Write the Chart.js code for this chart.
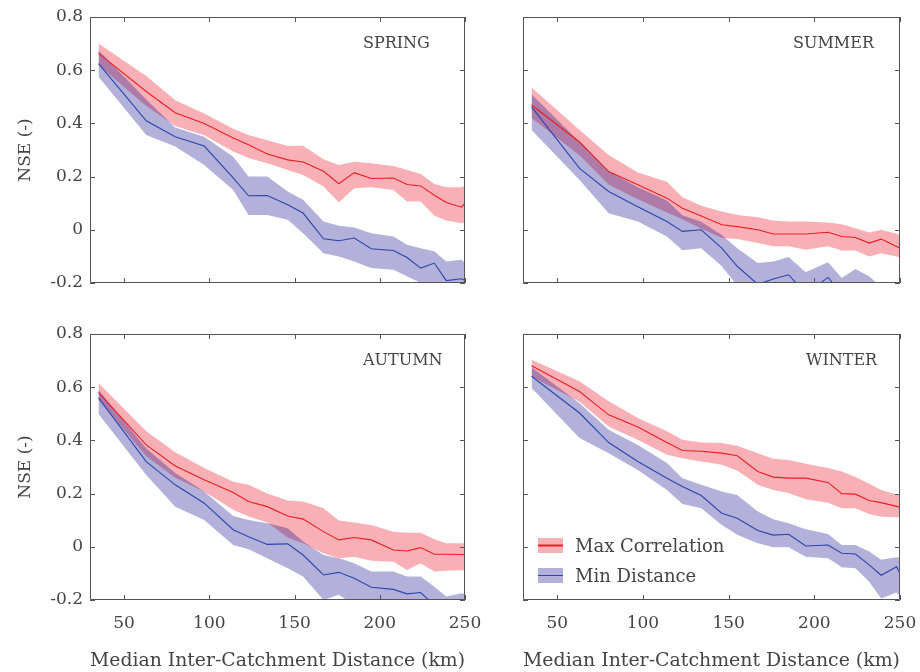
<!DOCTYPE html>
<html>
<head>
<meta charset="utf-8">
<script src="https://cdn.jsdelivr.net/npm/chart.js@4.4.1/dist/chart.umd.min.js"></script>
<style>
  body { margin: 0; background: #fff; width: 920px; height: 672px; position: relative; overflow: hidden; }
  canvas { position: absolute; left: 0; top: 0; }
</style>
</head>
<body>
<canvas id="spring" width="920" height="672"></canvas>
<canvas id="summer" width="920" height="672"></canvas>
<canvas id="autumn" width="920" height="672"></canvas>
<canvas id="winter" width="920" height="672"></canvas>
<script>
// median inter-catchment distance (km) of each bin, shared by all panels
const distances = [35, 63, 80, 97, 114, 123, 134, 146, 155, 167, 176, 185, 195, 208, 216, 224, 232, 239, 248, 256];
const xTicks = [50, 100, 150, 200, 250];
const yTicks = [-0.2, 0, 0.2, 0.4, 0.6, 0.8];
const seriesNames = ['Max Correlation', 'Min Distance'];

// SPRING
const springCorr   = [0.663, 0.52, 0.44, 0.40, 0.345, 0.32, 0.285, 0.263, 0.255, 0.22, 0.173, 0.215, 0.193, 0.195, 0.17, 0.165, 0.13, 0.103, 0.085, 0.145];
const springCorrHi = [0.70, 0.578, 0.487, 0.437, 0.38, 0.356, 0.337, 0.315, 0.316, 0.265, 0.244, 0.256, 0.25, 0.24, 0.225, 0.21, 0.172, 0.16, 0.16, 0.184];
const springCorrLo = [0.62, 0.465, 0.39, 0.355, 0.294, 0.27, 0.25, 0.225, 0.206, 0.163, 0.103, 0.156, 0.16, 0.15, 0.106, 0.106, 0.053, 0.035, 0.025, 0.04];
const springDist   = [0.625, 0.41, 0.35, 0.315, 0.195, 0.128, 0.129, 0.094, 0.063, -0.034, -0.041, -0.031, -0.071, -0.078, -0.104, -0.144, -0.125, -0.191, -0.184, -0.208];
const springDistHi = [0.675, 0.49, 0.385, 0.35, 0.275, 0.2, 0.2, 0.144, 0.113, 0.031, 0.015, 0.009, -0.013, -0.025, -0.056, -0.069, -0.081, -0.119, -0.113, -0.16];
const springDistLo = [0.575, 0.356, 0.313, 0.244, 0.15, 0.056, 0.056, 0.038, -0.013, -0.088, -0.1, -0.119, -0.144, -0.15, -0.175, -0.2, -0.215, -0.24, -0.24, -0.26];

// SUMMER
const summerCorr   = [0.469, 0.33, 0.219, 0.169, 0.119, 0.081, 0.052, 0.019, 0.012, 0.0, -0.016, -0.016, -0.016, -0.009, -0.025, -0.029, -0.05, -0.035, -0.063, -0.087];
const summerCorrHi = [0.535, 0.375, 0.281, 0.215, 0.181, 0.122, 0.09, 0.069, 0.056, 0.047, 0.035, 0.031, 0.031, 0.027, 0.021, 0.006, -0.01, 0.0, -0.015, -0.035];
const summerCorrLo = [0.42, 0.28, 0.17, 0.115, 0.065, 0.04, 0.005, -0.031, -0.035, -0.05, -0.062, -0.062, -0.075, -0.062, -0.078, -0.078, -0.1, -0.088, -0.1, -0.115];
const summerDist   = [0.462, 0.231, 0.144, 0.087, 0.031, -0.006, 0.0, -0.069, -0.137, -0.205, -0.185, -0.169, -0.24, -0.179, -0.24, -0.23, -0.25, -0.29, -0.3, -0.3];
const summerDistHi = [0.51, 0.33, 0.22, 0.16, 0.11, 0.055, 0.03, -0.02, -0.069, -0.125, -0.119, -0.102, -0.16, -0.122, -0.181, -0.147, -0.175, -0.215, -0.24, -0.26];
const summerDistLo = [0.375, 0.187, 0.062, 0.031, -0.025, -0.077, -0.069, -0.137, -0.21, -0.27, -0.26, -0.25, -0.3, -0.26, -0.3, -0.3, -0.32, -0.35, -0.35, -0.35];

// AUTUMN
const autumnCorr   = [0.58, 0.383, 0.304, 0.252, 0.204, 0.17, 0.151, 0.116, 0.104, 0.057, 0.026, 0.035, 0.026, -0.012, -0.016, -0.003, -0.028, -0.028, -0.029, -0.032];
const autumnCorrHi = [0.616, 0.434, 0.355, 0.296, 0.245, 0.233, 0.2, 0.174, 0.17, 0.145, 0.099, 0.091, 0.082, 0.057, 0.053, 0.053, 0.028, 0.013, 0.013, 0.012];
const autumnCorrLo = [0.553, 0.34, 0.26, 0.208, 0.139, 0.114, 0.091, 0.035, 0.013, -0.024, -0.043, -0.037, -0.052, -0.056, -0.087, -0.062, -0.093, -0.09, -0.088, -0.088];
const autumnDist   = [0.56, 0.32, 0.233, 0.164, 0.064, 0.038, 0.009, 0.011, -0.031, -0.106, -0.096, -0.118, -0.152, -0.16, -0.177, -0.172, -0.22, -0.25, -0.27, -0.28];
const autumnDistHi = [0.59, 0.37, 0.277, 0.208, 0.116, 0.101, 0.089, 0.07, 0.02, -0.031, -0.043, -0.062, -0.093, -0.093, -0.112, -0.112, -0.15, -0.187, -0.175, -0.19];
const autumnDistLo = [0.499, 0.27, 0.151, 0.101, 0.007, -0.009, -0.043, -0.081, -0.112, -0.2, -0.18, -0.22, -0.25, -0.26, -0.28, -0.28, -0.3, -0.3, -0.3, -0.3];

// WINTER
const winterCorr   = [0.681, 0.584, 0.496, 0.45, 0.392, 0.362, 0.359, 0.352, 0.342, 0.283, 0.262, 0.258, 0.258, 0.242, 0.2, 0.198, 0.174, 0.166, 0.152, 0.14];
const winterCorrHi = [0.703, 0.622, 0.547, 0.484, 0.434, 0.402, 0.392, 0.39, 0.38, 0.352, 0.331, 0.326, 0.312, 0.296, 0.283, 0.262, 0.237, 0.214, 0.197, 0.19];
const winterCorrLo = [0.64, 0.545, 0.452, 0.402, 0.346, 0.333, 0.321, 0.308, 0.287, 0.233, 0.214, 0.202, 0.179, 0.166, 0.145, 0.145, 0.123, 0.113, 0.111, 0.11];
const winterDist   = [0.641, 0.503, 0.392, 0.321, 0.258, 0.227, 0.193, 0.126, 0.107, 0.061, 0.044, 0.047, 0.003, 0.007, -0.024, -0.027, -0.068, -0.107, -0.075, -0.175];
const winterDistHi = [0.675, 0.54, 0.44, 0.383, 0.315, 0.258, 0.233, 0.208, 0.195, 0.133, 0.104, 0.089, 0.066, 0.048, 0.007, 0.007, -0.018, -0.049, -0.039, -0.05];
const winterDistLo = [0.597, 0.409, 0.352, 0.289, 0.214, 0.161, 0.145, 0.082, 0.045, 0.013, -0.002, -0.002, -0.037, -0.043, -0.077, -0.081, -0.131, -0.194, -0.172, -0.23];

const RED_LINE = '#ec1c24';
const RED_BAND = 'rgba(232, 0, 20, 0.31)';
const BLUE_LINE = '#2b45ad';
const BLUE_BAND = 'rgba(10, 0, 135, 0.31)';
const TEXT = '#444';
const FONT = "'DejaVu Serif', serif";

Chart.defaults.font.family = FONT;
Chart.defaults.color = TEXT;

const pts = ys => distances.map((d, i) => ({ x: d, y: ys[i] }));

// --- box, inward ticks, season label and legend ---
const framePlugin = {
    id: 'frame',
    afterDatasetsDraw(chart, args, opts) {
        const { ctx, chartArea: a, scales: { x, y } } = chart;
        ctx.save();
        ctx.strokeStyle = '#555';
        ctx.lineWidth = 1;
        ctx.beginPath();
        ctx.rect(a.left + 0.5, a.top + 0.5, a.right - a.left - 1, a.bottom - a.top - 1);
        x.ticks.forEach(t => {
            const px = Math.round(x.getPixelForValue(t.value)) + 0.5;
            ctx.moveTo(px, a.bottom); ctx.lineTo(px, a.bottom - 5);
            ctx.moveTo(px, a.top); ctx.lineTo(px, a.top + 5);
        });
        y.ticks.forEach(t => {
            const py = Math.round(y.getPixelForValue(t.value)) + 0.5;
            ctx.moveTo(a.left, py); ctx.lineTo(a.left + 5, py);
            ctx.moveTo(a.right, py); ctx.lineTo(a.right - 5, py);
        });
        ctx.stroke();

        ctx.fillStyle = TEXT;
        ctx.font = '16px ' + FONT;
        ctx.textBaseline = 'middle';
        ctx.fillText(opts.title, a.left + opts.titleX, a.top + 26.5);

        if (opts.legend) {
            const items = [
                { label: seriesNames[0], band: RED_BAND, line: RED_LINE, w: 2 },
                { label: seriesNames[1], band: BLUE_BAND, line: BLUE_LINE, w: 1 }
            ];
            ctx.font = '18px ' + FONT;
            items.forEach((it, i) => {
                const top = a.bottom - 62 + i * 30;
                const left = a.left + 15;
                ctx.fillStyle = it.band;
                ctx.fillRect(left, top, 25, 15);
                ctx.strokeStyle = it.line;
                ctx.lineWidth = it.w;
                ctx.beginPath();
                ctx.moveTo(left, top + 7.5); ctx.lineTo(left + 25, top + 7.5);
                ctx.stroke();
                ctx.fillStyle = TEXT;
                ctx.fillText(it.label, left + 37, top + 9);
            });
        }
        ctx.restore();
    }
};

function makePanel(id, title, corr, corrHi, corrLo, dist, distHi, distLo, p) {
    const line = (label, ys, color) => ({
        label, data: pts(ys), borderColor: color, borderWidth: 1.1,
        pointRadius: 0, fill: false, tension: 0
    });
    const edge = (ys, fill, bg) => ({
        data: pts(ys), borderColor: 'transparent', borderWidth: 0,
        pointRadius: 0, fill, backgroundColor: bg, tension: 0
    });
    new Chart(document.getElementById(id), {
        type: 'line',
        data: {
            datasets: [
                line(seriesNames[1], dist, BLUE_LINE),
                line(seriesNames[0], corr, RED_LINE),
                edge(distHi, '+1', BLUE_BAND),
                edge(distLo, false, BLUE_BAND),
                edge(corrHi, '+1', RED_BAND),
                edge(corrLo, false, RED_BAND)
            ]
        },
        options: {
            responsive: false,
            animation: false,
            devicePixelRatio: 1,
            layout: { padding: p.pad },
            plugins: {
                legend: { display: false },
                tooltip: { enabled: false },
                frame: { title, titleX: p.titleX, legend: p.legend }
            },
            scales: {
                x: {
                    type: 'linear', min: 30, max: 250,
                    afterBuildTicks: s => { s.ticks = xTicks.map(v => ({ value: v })); },
                    afterFit: s => { s.height = p.showX ? 72 : 27; s.paddingLeft = 0; s.paddingRight = 0; },
                    grid: { display: false, drawTicks: false },
                    border: { display: false },
                    ticks: { display: p.showX, padding: 13, font: { size: 17 }, maxRotation: 0, autoSkip: false },
                    title: {
                        display: p.showX, text: 'Median Inter-Catchment Distance (km)',
                        font: { size: 19 }, padding: { top: 0, bottom: 0 }
                    }
                },
                y: {
                    min: -0.2, max: 0.8,
                    afterBuildTicks: s => { s.ticks = yTicks.map(v => ({ value: v })); },
                    afterFit: s => { s.width = p.showY ? 90 : 53; s.paddingTop = 0; s.paddingBottom = 0; },
                    grid: { display: false, drawTicks: false },
                    border: { display: false },
                    ticks: { display: p.showY, padding: 7, font: { size: 17 }, callback: v => String(v) },
                    title: { display: p.showY, text: 'NSE (-)', font: { size: 17 }, padding: { top: 15 } }
                }
            }
        },
        plugins: [framePlugin]
    });
}

makePanel('spring', 'SPRING', springCorr, springCorrHi, springCorrLo, springDist, springDistHi, springDistLo,
    { pad: { left: 0, top: 17, right: 455, bottom: 362 }, showX: false, showY: true, titleX: 273 });
makePanel('summer', 'SUMMER', summerCorr, summerCorrHi, summerCorrLo, summerDist, summerDistHi, summerDistLo,
    { pad: { left: 470, top: 17, right: 20, bottom: 362 }, showX: false, showY: false, titleX: 270 });
makePanel('autumn', 'AUTUMN', autumnCorr, autumnCorrHi, autumnCorrLo, autumnDist, autumnDistHi, autumnDistLo,
    { pad: { left: 0, top: 334, right: 455, bottom: 0 }, showX: true, showY: true, titleX: 273 });
makePanel('winter', 'WINTER', winterCorr, winterCorrHi, winterCorrLo, winterDist, winterDistHi, winterDistLo,
    { pad: { left: 470, top: 334, right: 20, bottom: 0 }, showX: true, showY: false, titleX: 283, legend: true });
</script>
</body>
</html>
